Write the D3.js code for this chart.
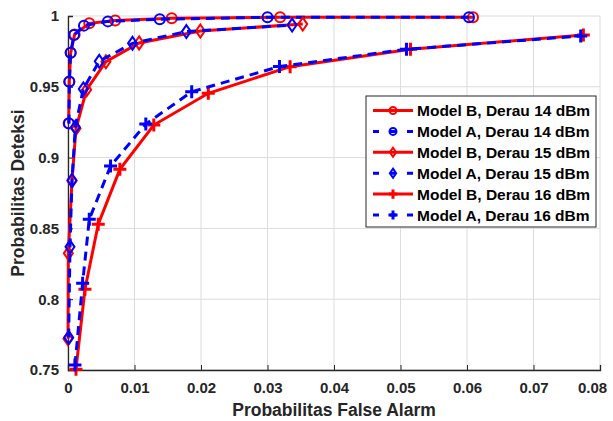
<!DOCTYPE html>
<html>
<head>
<meta charset="utf-8">
<script src="https://cdn.jsdelivr.net/npm/d3@7"></script>
<style>
body { margin: 0; background: #fff; }
text { font-family: "Liberation Sans", Arial, sans-serif; font-weight: bold; fill: #262626; }
</style>
</head>
<body>
<div id="container"></div>
<script>
// data
var xTicks = [0, 0.01, 0.02, 0.03, 0.04, 0.05, 0.06, 0.07, 0.08];
var xTickLabels = ["0", "0.01", "0.02", "0.03", "0.04", "0.05", "0.06", "0.07", "0.08"];
var yTicks = [0.75, 0.8, 0.85, 0.9, 0.95, 1];
var yTickLabels = ["0.75", "0.8", "0.85", "0.9", "0.95", "1"];

var b14x = [0.0001, 0.0002, 0.0004, 0.0010, 0.0032, 0.0071, 0.0156, 0.0319, 0.0609];
var b14y = [0.9242, 0.9538, 0.974, 0.987, 0.9948, 0.9968, 0.9984, 0.9991, 0.9991];
var a14x = [0.00015, 0.0002, 0.0004, 0.0009, 0.0024, 0.006, 0.0138, 0.030, 0.0603];
var a14y = [0.924, 0.9535, 0.974, 0.9866, 0.9932, 0.9962, 0.9977, 0.9991, 0.9991];
var b15x = [0.0000, 0.00005, 0.0006, 0.0012, 0.0028, 0.0057, 0.0107, 0.0199, 0.0353];
var b15y = [0.772, 0.8324, 0.8835, 0.9205, 0.948, 0.9677, 0.981, 0.9894, 0.9943];
var a15x = [0.0001, 0.0003, 0.0006, 0.0011, 0.0023, 0.0047, 0.0097, 0.0178, 0.0337];
var a15y = [0.773, 0.837, 0.884, 0.9215, 0.9485, 0.968, 0.9807, 0.989, 0.9936];
var b16x = [0.0012, 0.00255, 0.00455, 0.0078, 0.0129, 0.0211, 0.0334, 0.0515, 0.0775];
var b16y = [0.7505, 0.807, 0.853, 0.8917, 0.923, 0.9454, 0.9642, 0.9765, 0.9866];
var a16x = [0.00105, 0.0022, 0.0032, 0.0064, 0.0117, 0.0186, 0.0318, 0.0509, 0.0771];
var a16y = [0.7535, 0.8113, 0.8564, 0.894, 0.9237, 0.9465, 0.9643, 0.9765, 0.9859];

var seriesNames = ["Model B, Derau 14 dBm", "Model A, Derau 14 dBm", "Model B, Derau 15 dBm",
	"Model A, Derau 15 dBm", "Model B, Derau 16 dBm", "Model A, Derau 16 dBm"];

(function()
{
	var width = 613, height = 421;
	var left = 68, right = 600, top = 16, bottom = 370;
	var svg = d3.select("#container").append("svg").attr("width", width).attr("height", height);

	var x = d3.scaleLinear().domain([0, 0.08]).range([left, right]);
	var y = d3.scaleLinear().domain([0.75, 1]).range([bottom, top]);

	// grid
	svg.append("g").selectAll("line").data(xTicks).enter().append("line")
		.attr("x1", x).attr("x2", x).attr("y1", top).attr("y2", bottom)
		.style("stroke", "#dcdcdc").style("stroke-width", "1px");
	svg.append("g").selectAll("line").data(yTicks).enter().append("line")
		.attr("x1", left).attr("x2", right).attr("y1", y).attr("y2", y)
		.style("stroke", "#dcdcdc").style("stroke-width", "1px");

	// axes (ticks pointing inward, like matlab)
	var xAxis = d3.axisBottom(x).tickValues(xTicks).tickSize(-5).tickPadding(12)
		.tickFormat(function(d, i){ return xTickLabels[i]; });
	var yAxis = d3.axisLeft(y).tickValues(yTicks).tickSize(-5).tickPadding(9)
		.tickFormat(function(d, i){ return yTickLabels[i]; });
	var gx = svg.append("g").attr("transform", "translate(0," + bottom + ")").call(xAxis);
	var gy = svg.append("g").attr("transform", "translate(" + left + ",0)").call(yAxis);
	[gx, gy].forEach(function(g){
		g.select(".domain").style("stroke", "#262626").style("stroke-width", "1.3px");
		g.selectAll(".tick line").style("stroke", "#262626");
		g.selectAll(".tick text").style("font-size", "15px").attr("fill", "#262626")
			.style("font-family", "'Liberation Sans', Arial, sans-serif").style("font-weight", "bold");
	});
	// last x label is pulled in so it stays inside the window
	gx.selectAll(".tick text").filter(function(d){ return d == 0.08; }).attr("dx", -8);

	// axis titles
	svg.append("text").attr("x", (left + right) / 2).attr("y", 416).attr("text-anchor", "middle")
		.style("font-size", "17.5px").text("Probabilitas False Alarm");
	svg.append("text").attr("transform", "translate(24," + ((top + bottom) / 2) + ") rotate(-90)")
		.attr("text-anchor", "middle").style("font-size", "17.5px").text("Probabilitas Deteksi");

	// markers
	function drawMarker(g, kind, cx, cy, color, scale)
	{
		var s = scale || 1;
		if (kind == "circle")
			g.append("circle").attr("cx", cx).attr("cy", cy).attr("r", 5 * s)
				.style("fill", "none").style("stroke", color).style("stroke-width", 2);
		else if (kind == "diamond")
			g.append("path").attr("d", "M" + cx + "," + (cy - 6.5 * s) + "L" + (cx + 4.5 * s) + "," + cy
				+ "L" + cx + "," + (cy + 6.5 * s) + "L" + (cx - 4.5 * s) + "," + cy + "Z")
				.style("fill", "none").style("stroke", color).style("stroke-width", 2);
		else
			g.append("path").attr("d", "M" + (cx - 6.5 * s) + "," + cy + "H" + (cx + 6.5 * s)
				+ "M" + cx + "," + (cy - 6.5 * s) + "V" + (cy + 6.5 * s))
				.style("fill", "none").style("stroke", color).style("stroke-width", 3);
	}

	var series = [
		{xs: b14x, ys: b14y, color: "#ff0000", dash: null, marker: "circle"},
		{xs: a14x, ys: a14y, color: "#0000ff", dash: "9,6", marker: "circle"},
		{xs: b15x, ys: b15y, color: "#ff0000", dash: null, marker: "diamond"},
		{xs: a15x, ys: a15y, color: "#0000ff", dash: "9,6", marker: "diamond"},
		{xs: b16x, ys: b16y, color: "#ff0000", dash: null, marker: "plus"},
		{xs: a16x, ys: a16y, color: "#0000ff", dash: "9,6", marker: "plus"}
	];

	var line = d3.line().x(function(d){ return x(d[0]); }).y(function(d){ return y(d[1]); });
	series.forEach(function(s)
	{
		var pts = d3.zip(s.xs, s.ys);
		var g = svg.append("g");
		g.append("path").attr("d", line(pts))
			.style("fill", "none").style("stroke", s.color).style("stroke-width", 3)
			.style("stroke-dasharray", s.dash);
		pts.forEach(function(p){ drawMarker(g, s.marker, x(p[0]), y(p[1]), s.color); });
	});

	// legend
	var lx = 366, ly = 96, lw = 230, lh = 131, rowH = 20.9;
	var legend = svg.append("g");
	legend.append("rect").attr("x", lx).attr("y", ly).attr("width", lw).attr("height", lh)
		.style("fill", "#fff").style("stroke", "#262626").style("stroke-width", 1);
	series.forEach(function(s, i)
	{
		var ry = ly + 14.5 + i * rowH;
		legend.append("line").attr("x1", lx + 7).attr("x2", lx + 47).attr("y1", ry).attr("y2", ry)
			.style("stroke", s.color).style("stroke-width", 3).style("stroke-dasharray", s.dash ? "6,11" : null);
		drawMarker(legend, s.marker, lx + 27, ry, s.color, 0.7);
		legend.append("text").attr("x", lx + 51).attr("y", ry + 5.5)
			.style("font-size", "15.5px").style("fill", "#000").text(seriesNames[i]);
	});
})();
</script>
</body>
</html>
